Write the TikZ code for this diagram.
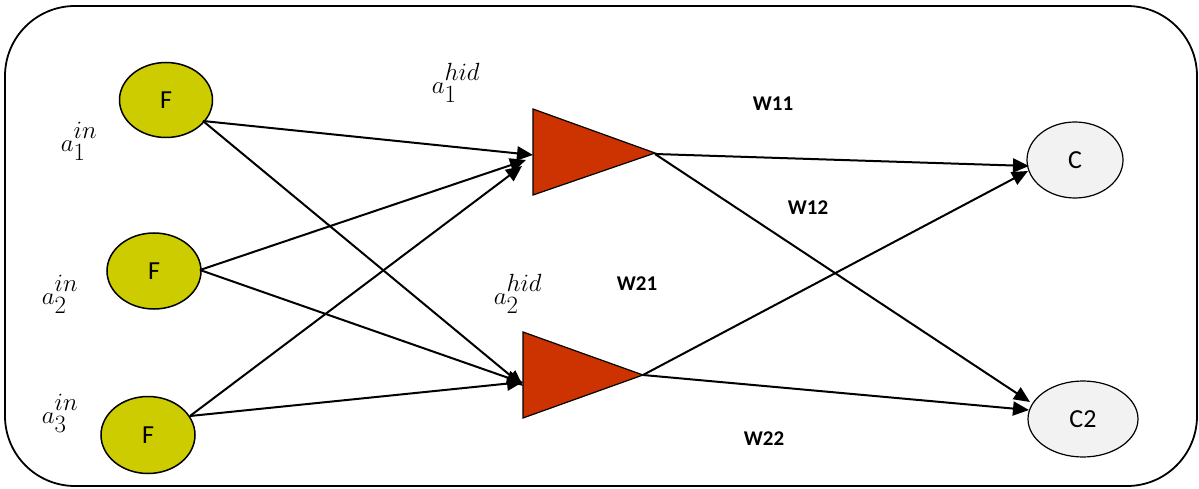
\documentclass[tikz,border=0pt]{standalone}
\usepackage{fontspec}
\newfontfamily\calibri{Carlito}
\usetikzlibrary{arrows.meta,shapes.geometric}
\definecolor{infill}{HTML}{CCCC00}
\definecolor{hidfill}{HTML}{CC3300}
\definecolor{outfill}{HTML}{F2F2F2}
\newcommand\actlab[2]{$a^{\raisebox{4pt}{$\scriptstyle #2$}}_{\raisebox{-3pt}{$\scriptstyle #1$}}$}
\tikzset{
  inode/.style={ellipse, draw=black, line width=1.5pt, fill=infill, inner sep=0pt, font=\calibri\fontsize{26}{28}\selectfont},
  onode/.style={ellipse, draw=black, line width=1.2pt, fill=outfill, inner sep=0pt, font=\calibri\fontsize{26}{28}\selectfont},
  wlab/.style={font=\calibri\bfseries\fontsize{21}{23}\selectfont},
  alab/.style={font=\fontsize{33}{35}\selectfont},
  conn/.style={line width=2pt, -{Triangle[length=16pt,width=14pt]}},
  tri/.style={fill=hidfill, draw=black, line width=1.2pt},
}
\begin{document}
\begin{tikzpicture}[x=1pt,y=-1pt]
\useasboundingbox (0,0) rectangle (1199,489);
\draw[line width=1.8pt, rounded corners=70pt] (5,6) rectangle (1197,486);
% input nodes
\node[inode, minimum width=93pt, minimum height=75pt] (f1) at (166,100) {F};
\node[inode, minimum width=94pt, minimum height=76pt] (f2) at (154,271) {F};
\node[inode, minimum width=94pt, minimum height=77pt] (f3) at (148,435) {F};
% output nodes
\node[onode, minimum width=96pt, minimum height=76pt] (c1) at (1075,160) {C};
\node[onode, minimum width=110pt, minimum height=76pt] (c2) at (1083,419) {C2};
% hidden triangles
\fill[tri] (533,109) -- (655,153) -- (533,195) -- cycle;
\fill[tri] (523,332) -- (643,375) -- (523,418) -- cycle;
\coordinate (t1apex) at (655,154);
\coordinate (t2apex) at (643,375);
\coordinate (t1ina) at (533,155);
\coordinate (t1inb) at (526,160);
\coordinate (t1inc) at (522,166);
\coordinate (t2ina) at (523,386);
\coordinate (t2inb) at (523,383);
\coordinate (t2inc) at (523,382);
\coordinate (f1o) at (203,121);
\coordinate (f2o) at (200,270);
\coordinate (f3o) at (190,416);
\coordinate (c1ia) at (1029,166);
\coordinate (c1ib) at (1028,171);
\coordinate (c2ia) at (1030,402);
\coordinate (c2ib) at (1029,410);
% connectors
\draw[conn] (f1o) -- (t1ina);
\draw[conn] (f1o) -- (t2ina);
\draw[conn] (f2o) -- (t1inb);
\draw[conn] (f2o) -- (t2inb);
\draw[conn] (f3o) -- (t1inc);
\draw[conn] (f3o) -- (t2inc);
\draw[conn] (t1apex) -- (c1ia);
\draw[conn] (t1apex) -- (c2ia);
\draw[conn] (t2apex) -- (c1ib);
\draw[conn] (t2apex) -- (c2ib);
% labels
\node[alab] (l1) at (79,141) {\actlab{1}{in}};
\node[alab] (l2) at (60,294) {\actlab{2}{in}};
\node[alab] (l3) at (60,413) {\actlab{3}{in}};
\node[alab] (h1) at (456,83) {\actlab{1}{hid}};
\node[alab] (h2) at (518,294) {\actlab{2}{hid}};
\node[wlab] (w11) at (773,104) {W11};
\node[wlab] (w12) at (808,208) {W12};
\node[wlab] (w21) at (637,284) {W21};
\node[wlab] (w22) at (764,439) {W22};
\end{tikzpicture}
\end{document}
